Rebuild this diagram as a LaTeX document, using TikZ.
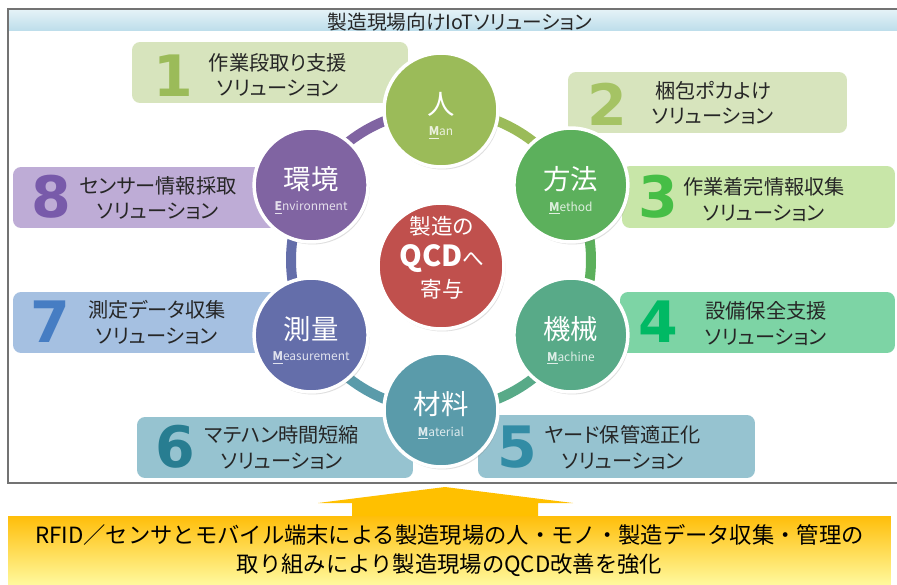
\documentclass[tikz,border=0pt]{standalone}
\usepackage{fontspec}
\setmainfont{Noto Sans CJK JP}[RawFeature=+palt]
\newfontfamily\notefont{Noto Sans CJK JP}
\newfontfamily\numfont{DejaVu Sans}
\usepackage{tikz}
\usetikzlibrary{calc, shadows}

% factor colours
\definecolor{manC}{RGB}{155,187,89}
\definecolor{methodC}{RGB}{92,176,92}
\definecolor{machineC}{RGB}{88,170,136}
\definecolor{materialC}{RGB}{90,155,170}
\definecolor{measureC}{RGB}{100,110,170}
\definecolor{environC}{RGB}{128,100,162}
\definecolor{qcdC}{RGB}{192,80,77}
% solution box colours
\definecolor{box1C}{RGB}{215,228,189}
\definecolor{box3C}{RGB}{200,230,168}
\definecolor{box4C}{RGB}{125,212,165}
\definecolor{box5C}{RGB}{150,195,208}
\definecolor{box7C}{RGB}{165,192,225}
\definecolor{box8C}{RGB}{190,172,214}
\definecolor{num1C}{RGB}{155,187,89}
\definecolor{num2C}{RGB}{165,195,100}
\definecolor{num3C}{RGB}{70,190,70}
\definecolor{num4C}{RGB}{0,185,100}
\definecolor{num5C}{RGB}{50,140,165}
\definecolor{num6C}{RGB}{40,125,145}
\definecolor{num7C}{RGB}{70,125,195}
\definecolor{num8C}{RGB}{120,90,170}
% frame and bottom
\definecolor{bandTop}{RGB}{228,242,247}
\definecolor{bandBot}{RGB}{190,222,235}
\definecolor{yelTop}{RGB}{255,190,10}
\definecolor{yelBot}{RGB}{255,250,160}
\definecolor{arrowC}{RGB}{255,192,0}

\begin{document}
\begin{tikzpicture}[
    x=0.02cm, y=0.02cm,
    % --- Styles ---
    factor/.style={circle, draw=white, line width=0.07cm, minimum size=2.28cm, inner sep=0pt,
        drop shadow={opacity=0.25, shadow xshift=0.03cm, shadow yshift=-0.05cm}},
    factor name/.style={text=white, font=\fontsize{15.6pt}{18pt}\selectfont, inner sep=0pt},
    factor en/.style={font=\fontsize{6.8pt}{8pt}\selectfont, inner sep=0pt},
    ring/.style={line width=0.2cm},
    solbox/.style 2 args={rounded corners=0.16cm, minimum width=#1, minimum height=#2, inner sep=0pt},
    sol text/.style={align=center, text=black!85, font=\fontsize{11.5pt}{14.6pt}\selectfont, inner sep=0pt},
    sol num/.style={font=\numfont\bfseries\fontsize{32.5pt}{36pt}\selectfont, inner sep=0pt}
]
    \useasboundingbox (0,0) rectangle (897,-585);
    \fill[white] (0,0) rectangle (897,-585);

    %% --- FRAME ---
    \shade[top color=bandTop, bottom color=bandBot] (9,-10) rectangle (905,-30);
    \draw[black!55, line width=0.04cm] (8,-9) rectangle (905,-483);
    \node[font=\fontsize{11.2pt}{13pt}\selectfont, text=black!85, inner sep=0pt] (title) at (460,-22) {製造現場向けIoTソリューション};

    %% --- SOLUTION BOXES ---
    \node[solbox={5.52cm}{1.22cm}, fill=box1C] (sol1) at (270,-72.5) {};
    \node[sol num, text=num1C] (num1) at (173,-76) {1};
    \node[sol text] (sol1txt) at (278,-75) {作業段取り支援\\ソリューション};

    \node[solbox={5.58cm}{1.22cm}, fill=box1C] (sol2) at (707.5,-102.5) {};
    \node[sol num, text=num2C] (num2) at (607,-104) {2};
    \node[sol text] (sol2txt) at (713,-103) {梱包ポカよけ\\ソリューション};

    \node[solbox={5.46cm}{1.24cm}, fill=box3C] (sol3) at (758.5,-197) {};
    \node[sol num, text=num3C] (num3) at (658,-197) {3};
    \node[sol text] (sol3txt) at (764,-199.5) {作業着完情報収集\\ソリューション};

    \node[solbox={5.50cm}{1.22cm}, fill=box4C] (sol4) at (757.5,-322.5) {};
    \node[sol num, text=num4C] (num4) at (658,-322) {4};
    \node[sol text] (sol4txt) at (766,-323.5) {設備保全支援\\ソリューション};

    \node[solbox={5.54cm}{1.26cm}, fill=box5C] (sol5) at (616.5,-446.5) {};
    \node[sol num, text=num5C] (num5) at (517,-447) {5};
    \node[sol text] (sol5txt) at (623,-447.5) {ヤード保管適正化\\ソリューション};

    \node[solbox={5.52cm}{1.22cm}, fill=box5C] (sol6) at (275,-447.5) {};
    \node[sol num, text=num6C] (num6) at (175,-447) {6};
    \node[sol text] (sol6txt) at (282,-447.5) {マテハン時間短縮\\ソリューション};

    \node[solbox={5.74cm}{1.22cm}, fill=box7C] (sol7) at (156.5,-322.5) {};
    \node[sol num, text=num7C] (num7) at (50,-322) {7};
    \node[sol text] (sol7txt) at (157,-322.5) {測定データ収集\\ソリューション};

    \node[solbox={5.74cm}{1.22cm}, fill=box8C] (sol8) at (156.5,-197.5) {};
    \node[sol num, text=num8C] (num8) at (51,-197) {8};
    \node[sol text] (sol8txt) at (158,-198) {センサー情報採取\\ソリューション};

    %% --- RING OF FACTORS ---
    \coordinate (ring) at (441,-260);
    \foreach \ang/\col in {90/manC, 30/methodC, -30/machineC, -90/materialC, -150/measureC, 150/environC}
        \draw[ring, draw=\col] ($(ring)+(\ang:150)$) arc[start angle=\ang, delta angle=-60, radius=150];

    \foreach \nm/\ang/\col/\jp/\enA/\enB in {man/90/manC/人/M/an, method/30/methodC/方法/M/ethod,
        machine/-30/machineC/機械/M/achine, material/-90/materialC/材料/M/aterial,
        measure/-150/measureC/測量/M/easurement, environ/150/environC/環境/E/nvironment} {
        \node[factor, fill=\col] (\nm) at ($(ring)+(\ang:150)$) {};
        \node[factor name] (\nm name) at ($(\nm.center)+(0,6)$) {\jp};
        \node[factor en, text=white!80!\col] (\nm en) at ($(\nm.center)+(0,-23)$) {\underline{\textbf{\enA}}\enB};
    }

    % centre: QCD
    \node[factor, fill=qcdC, minimum size=2.52cm] (qcd) at (441,-266) {};
    \node[align=center, text=white, inner sep=0pt, font=\fontsize{12.3pt}{18pt}\selectfont] (qcdtxt) at (442,-258)
        {製造の\\{\fontsize{16.5pt}{18pt}\selectfont\bfseries QCD}へ\\寄与};

    %% --- BOTTOM NOTE ---
    \node[top color=yelTop, bottom color=yelBot, minimum width=17.66cm, minimum height=1.4cm, inner sep=0pt,
        align=center, font=\notefont\fontsize{12.7pt}{16.5pt}\selectfont] (note) at (449.5,-551)
        {RFID／センサとモバイル端末による製造現場の人・モノ・製造データ収集・管理の\\取り組みにより製造現場のQCD改善を強化};
    \coordinate (arrowTip) at (445,-487);
    \fill[arrowC] (arrowTip) -- (573,-503) -- (538,-503) -- (538,-516) -- (352,-516) -- (352,-503) -- (318,-503) -- cycle;
\end{tikzpicture}
\end{document}
